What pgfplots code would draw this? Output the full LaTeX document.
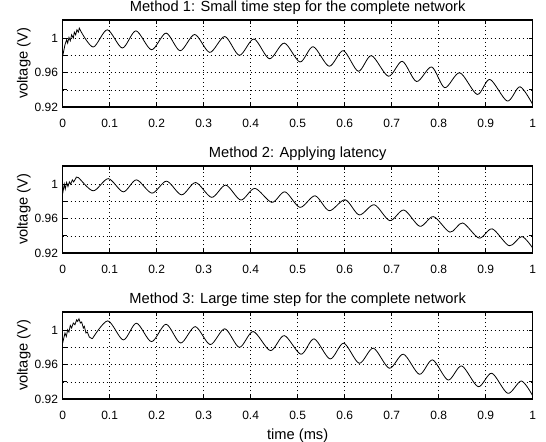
\documentclass[border=0pt]{standalone}
\usepackage{fontspec}
\setmainfont{Liberation Sans}
\usepackage{pgfplots}
\pgfplotsset{compat=1.18}
\usepgfplotslibrary{groupplots}

\pgfplotsset{
  netaxis/.style={
    width=352.5pt, height=65.25pt, scale only axis,
    xmin=0, xmax=1, ymin=0.92, ymax=1.021,
    xtick={0,0.1,0.2,0.3,0.4,0.5,0.6,0.7,0.8,0.9,1},
    xticklabels={0,0.1,0.2,0.3,0.4,0.5,0.6,0.7,0.8,0.9,1},
    ytick={0.92,0.94,0.96,0.98,1},
    yticklabels={0.92,,0.96,,1},
    grid=major,
    major grid style={black, line width=0.4pt, dash pattern=on 0.8pt off 2.2pt},
    axis line style={line width=1pt},
    tick style={black, line width=0.5pt},
    major tick length=3pt,
    /pgf/number format/assume math mode=true,
    tick label style={font=\fontsize{9}{10.5}\selectfont},
    xticklabel style={yshift=-5.5pt},
    title style={font=\fontsize{11}{13}\selectfont, yshift=-5.5pt},
    label style={font=\fontsize{11}{13}\selectfont},
    ylabel={voltage (V)},
    ylabel shift=-4pt,
    xlabel shift=0pt,
    cycle list={{black, line width=0.6pt}},
  },
  sig/.style={black, line width=0.6pt, no markers},
}

\begin{document}
\begin{tikzpicture}
\begin{groupplot}[group style={group size=1 by 3, vertical sep=44.25pt}, netaxis]

\nextgroupplot[title={Method 1: Small time step for the complete network}]
\addplot[sig] coordinates {
(0,0.979) (0.0049,0.9923) (0.0084,0.998) (0.0106,0.9942) (0.0134,1.0007)
(0.0162,0.9969) (0.0191,1.0038) (0.0226,1.0000) (0.0248,1.0069) (0.0276,1.0038)
(0.0304,1.0096) (0.0333,1.0069) (0.0354,1.0115) (0.0382,1.0084)
};
\addplot[sig, smooth] coordinates {
(0.0382,1.0084) (0.065,0.9896) (0.095,1.0096) (0.127,0.9885) (0.156,1.0084)
(0.189,0.9865) (0.22,1.0058) (0.25,0.9853) (0.281,1.0042) (0.313,0.9834)
(0.345,1.0018) (0.376,0.980) (0.407,0.9989) (0.440,0.976) (0.4715,0.9942)
(0.505,0.9723) (0.533,0.99) (0.567,0.9673) (0.597,0.9854) (0.629,0.9615)
(0.657,0.9796) (0.693,0.9557) (0.7226,0.973) (0.753,0.9496) (0.785,0.9665)
(0.813,0.9424) (0.845,0.9597) (0.882,0.9346) (0.909,0.952) (0.946,0.9269)
(0.973,0.9435) (1.0,0.923)
};

\nextgroupplot[title={Method 2: Applying latency}]
\addplot[sig] coordinates {
(0,0.989) (0.0034,0.9999) (0.0055,0.9941) (0.0084,1.0018) (0.0113,0.9972)
(0.0142,1.0025) (0.017,0.9999) (0.0206,1.0049) (0.0234,1.0025) (0.0284,1.0071)
};
\addplot[sig, smooth] coordinates {
(0.0284,1.0071) (0.0333,1.0076) (0.065,0.9922) (0.097,1.0063) (0.129,0.991)
(0.157,1.0049) (0.19,0.9895) (0.221,1.0034) (0.253,0.9875) (0.283,1.0018)
(0.317,0.9846) (0.347,0.9988) (0.379,0.9815) (0.409,0.995) (0.445,0.9788)
(0.473,0.991) (0.505,0.973) (0.537,0.9864) (0.567,0.9691) (0.601,0.9818)
(0.631,0.9642) (0.663,0.976) (0.696,0.9576) (0.726,0.9699) (0.76,0.951)
(0.789,0.9622) (0.824,0.9442) (0.851,0.9549) (0.886,0.9373) (0.914,0.948)
(0.95,0.9284) (0.977,0.9391) (1.0,0.9258)
};

\nextgroupplot[title={Method 3: Large time step for the complete network}, xlabel={time (ms)}]
\addplot[sig] coordinates {
(0,0.985) (0.0049,0.9966) (0.0078,0.9926) (0.0106,1.0004) (0.0134,0.9977)
(0.0162,1.0054) (0.0191,1.0024) (0.0226,1.0082) (0.0262,1.0062) (0.0298,1.012)
(0.0319,1.0101) (0.0347,1.0132) (0.0376,1.0082) (0.0404,1.0094) (0.0440,1.0024)
(0.0461,1.0043) (0.0496,0.9966) (0.0525,0.9977) (0.0567,0.9919) (0.0631,0.9899)
};
\addplot[sig, smooth] coordinates {
(0.0631,0.9899) (0.096,1.0107) (0.129,0.9886) (0.157,1.008) (0.189,0.9866)
(0.22,1.0068) (0.251,0.985) (0.282,1.004) (0.314,0.9832) (0.345,1.0015)
(0.376,0.980) (0.4055,0.9983) (0.442,0.9762) (0.4715,0.9936) (0.507,0.972)
(0.535,0.9898) (0.569,0.9665) (0.598,0.9848) (0.631,0.9615) (0.661,0.979)
(0.695,0.9557) (0.725,0.972) (0.759,0.9487) (0.787,0.9654) (0.82,0.942)
(0.849,0.9584) (0.884,0.9343) (0.913,0.9499) (0.947,0.9266) (0.976,0.9409)
(1.0,0.9238)
};
\end{groupplot}
\pgfresetboundingbox
\path[use as bounding box] (group c1r1.north west) ++(-47pt,15pt) rectangle ++(409.5pt,-331.5pt);
\end{tikzpicture}
\end{document}
